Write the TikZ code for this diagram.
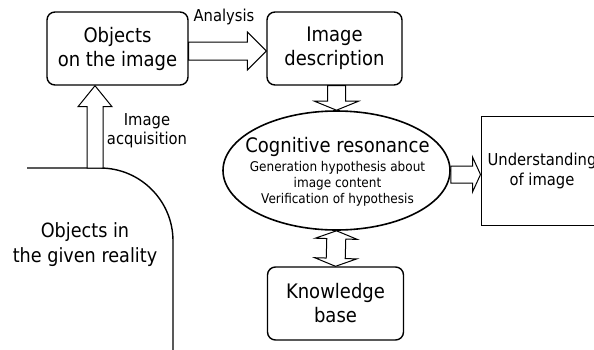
\documentclass[tikz,border=0pt]{standalone}
\usepackage{fontspec}
\setmainfont{DejaVu Sans}[FakeStretch=0.9]
\usetikzlibrary{calc,shapes.geometric}
\tikzset{
  rbox/.style={draw, rounded corners=8pt, line width=1.4pt, minimum width=#1, minimum height=73pt, inner sep=0pt, align=center, font=\fontsize{20}{24}\selectfont},
  sqbox/.style={draw, line width=1pt, minimum width=122pt, minimum height=109pt, inner sep=0pt, align=center, font=\fontsize{16.4}{20}\selectfont},
  cogell/.style={draw, ellipse, line width=1.6pt, minimum width=227pt, minimum height=119pt, inner sep=0pt},
  coglab/.style={inner sep=0pt, align=center, font=\fontsize{13.4}{16}\selectfont},
  outline/.style={draw, line width=1.4pt},
  lab/.style={font=\fontsize{16.4}{19}\selectfont, inner sep=0pt},
  reallab/.style={font=\fontsize{19.6}{25}\selectfont, inner sep=0pt, align=center},
  hollow/.style n args={3}{draw, fill=white, line width=1pt, to path={
    ($(\tikztotarget)!#3!(\tikztostart)$) coordinate (hb)
    ($(\tikztostart)!#1!90:(\tikztotarget)$)
    -- ($(hb)!#1!90:(\tikztotarget)$) -- ($(hb)!#2!90:(\tikztotarget)$)
    -- (\tikztotarget)
    -- ($(hb)!#2!-90:(\tikztotarget)$) -- ($(hb)!#1!-90:(\tikztotarget)$)
    -- ($(\tikztostart)!#1!-90:(\tikztotarget)$) -- cycle}},
  hollowboth/.style n args={3}{draw, fill=white, line width=1pt, to path={
    ($(\tikztostart)!#3!(\tikztotarget)$) coordinate (ha)
    ($(\tikztotarget)!#3!(\tikztostart)$) coordinate (hb)
    (\tikztostart)
    -- ($(ha)!#2!90:(\tikztotarget)$) -- ($(ha)!#1!90:(\tikztotarget)$)
    -- ($(hb)!#1!90:(\tikztotarget)$) -- ($(hb)!#2!90:(\tikztotarget)$)
    -- (\tikztotarget)
    -- ($(hb)!#2!-90:(\tikztotarget)$) -- ($(hb)!#1!-90:(\tikztotarget)$)
    -- ($(ha)!#1!-90:(\tikztotarget)$) -- ($(ha)!#2!-90:(\tikztotarget)$)
    -- cycle}},
}
\begin{document}
\begin{tikzpicture}[x=1pt,y=-1pt]
  \clip (0,0) rectangle (594,349);
  % boxes
  \node[rbox=141pt] (obj) at (117.5,48.5) {Objects\\on the image};
  \node[rbox=135pt] (desc) at (334.5,48.5) {Image\\description};
  \node[rbox=136pt] (know) at (335.5,303.5) {Knowledge\\base};
  \node[cogell] (cog) at (336.5,170.5) {};
  \node[coglab] (cogtxt) at (337.5,172) {{\fontsize{20}{24}\selectfont Cognitive resonance}\\[2.7pt]Generation hypothesis about\\image content\\Verification of hypothesis};
  \node[sqbox] (und) at (542,170.5) {Understanding\\of image};
  % the given reality
  \draw[outline] (27,168) -- (100,168) arc[start angle=-90, end angle=0, radius=73] -- (173,360);
  \node[reallab] (real) at (85,245) {Objects in\\the given reality};
  \node[lab] (ana) at (224,17) {Analysis};
  \node[lab, align=center] (acq) at (147,131) {Image\\acquisition};
  % hollow arrows
  \coordinate (acqs) at (95,168);
  \coordinate (acqt) at (acqs |- obj.south);
  \coordinate (anas) at ([yshift=-2.5pt]obj.east);
  \coordinate (anat) at (anas -| desc.west);
  \coordinate (descs) at (desc.south -| cog.north);
  \coordinate (cogs) at ([yshift=-4pt]cog.east);
  \coordinate (undt) at (cogs -| und.west);
  \draw[hollow={8pt}{17pt}{21pt}] (acqs) to (acqt);
  \draw[hollow={9pt}{19pt}{19pt}] (anas) to (anat);
  \draw[hollow={9pt}{22pt}{9pt}] (descs) to (cog.north);
  \draw[hollow={8.5pt}{17.5pt}{8pt}] (cogs) to (undt);
  \draw[hollowboth={9.5pt}{21pt}{8pt}] (cog.south) to (know.north);
\end{tikzpicture}
\end{document}
